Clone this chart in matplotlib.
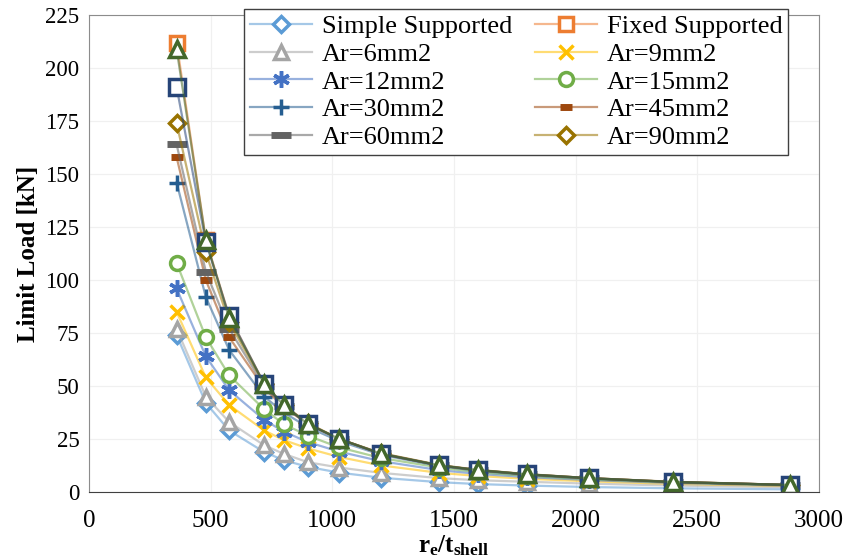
import numpy as np
import matplotlib.pyplot as plt
from matplotlib.colors import to_rgba

plt.rcParams['font.family'] = ['Liberation Serif', 'DejaVu Serif']
plt.rcParams['mathtext.fontset'] = 'custom'
plt.rcParams['mathtext.rm'] = 'Liberation Serif'
plt.rcParams['mathtext.bf'] = 'Liberation Serif:bold'

# r_e / t_shell
x = [360, 480, 576, 720, 800, 900, 1028.6, 1200, 1440, 1600, 1800, 2057, 2400, 2880]

# limit loads [kN]
simple = [74, 42, 29, 18.8, 15, 11.8, 9.1, 6.7, 4.6, 3.7, 3.0, 2.3, 1.7, 1.2]
fixed  = [212, 119, 83, 51, 41, 32, 25, 18, 12.5, 10.3, 8.3, 6.5, 4.7, 3.3]
ar6    = [77, 45, 33, 22, 18, 14, 11.5, 9, 6.5, 5.5, 4.8, 3.9, 3.0, 2.2]
ar9    = [85, 54, 41, 29, 24.5, 20.5, 16.5, 12.5, 9, 7.5, 6.2, 5.0, 3.8, 2.8]
ar12   = [96, 64, 48, 34, 28.5, 23.5, 19, 14.5, 10.3, 8.5, 7.0, 5.6, 4.2, 3.0]
ar15   = [108, 73, 55, 39, 32, 26.5, 21, 16, 11.5, 9.3, 7.6, 6.0, 4.5, 3.2]
ar30   = [146, 92, 67, 45, 37.5, 30.5, 24, 17.5, 12.2, 9.9, 8.0, 6.3, 4.6, 3.3]
ar45   = [158, 100, 73, 49, 40, 32, 25, 18, 12.5, 10.2, 8.2, 6.4, 4.7, 3.3]
ar60   = [164, 104, 77, 50, 40.5, 32, 25, 18.2, 12.6, 10.3, 8.3, 6.5, 4.7, 3.3]
ar90   = [174, 113, 80, 51, 41, 32.5, 25, 18.3, 12.7, 10.4, 8.4, 6.5, 4.8, 3.3]
ar120  = [191, 118, 83, 51, 41, 32, 25, 18, 12.5, 10.3, 8.3, 6.5, 4.7, 3.3]
ar150  = [209, 119, 82, 51, 41, 32, 25, 18, 12.5, 10.3, 8.3, 6.5, 4.7, 3.3]

fig = plt.figure(figsize=(8.52, 5.59), dpi=100)
ax = fig.add_axes([0.1045, 0.12, 0.8565, 0.853])

# (data, label, colour, marker, size, filled)
series = [
    (simple, 'Simple Supported', '#5B9BD5', 'D', 8, False),
    (fixed, 'Fixed Supported', '#ED7D31', 's', 10, False),
    (ar6, 'Ar=6mm2', '#A5A5A5', '^', 10, False),
    (ar9, 'Ar=9mm2', '#FFC000', 'x', 10, False),
    (ar12, 'Ar=12mm2', '#4472C4', (6, 2, 0), 12, False),
    (ar15, 'Ar=15mm2', '#70AD47', 'o', 10, False),
    (ar30, 'Ar=30mm2', '#255E91', '+', 11, False),
    (ar45, 'Ar=45mm2', '#9E480E', '_', 8, True),
    (ar60, 'Ar=60mm2', '#636363', '_', 14, True),
    (ar90, 'Ar=90mm2', '#997300', 'D', 8, False),
    (ar120, '_nolegend_', '#264478', 's', 12, False),
    (ar150, '_nolegend_', '#43682B', '^', 12, False),
]

for y, lab, c, m, ms, dash in series:
    lc = to_rgba(c, 0.55)
    kw = dict(color=lc, lw=1.6, marker=m, markersize=ms, markeredgecolor=c,
              label=lab)
    if m in ('x', '+') or isinstance(m, tuple):
        kw['markeredgewidth'] = 2.5
    elif dash:
        kw['markeredgewidth'] = 5
    else:
        kw['markerfacecolor'] = 'white'
        kw['markeredgewidth'] = 2.5
    ax.plot(x, y, **kw)

ax.set_xlim(0, 3000)
ax.set_ylim(0, 225)
ax.set_xticks(np.arange(0, 3001, 500))
ax.set_yticks(np.arange(0, 226, 25))
ax.grid(True, color='#F0F0F0', lw=0.9)
ax.set_axisbelow(True)
for s in ax.spines.values():
    s.set_color('#8C8C8C')
ax.spines['bottom'].set_color('#404040')
ax.tick_params(length=0)
ax.tick_params(axis='x', labelsize=18, pad=13)
ax.tick_params(axis='y', labelsize=16.5, pad=7)

ax.set_ylabel('Limit Load [kN]', fontsize=18, fontweight='bold', labelpad=4)
ax.set_xlabel(r'$\mathbf{r_e/t_{shell}}$', fontsize=18, labelpad=1)

# legend is filled row by row
h, l = ax.get_legend_handles_labels()
order = [0, 2, 4, 6, 8, 1, 3, 5, 7, 9]
leg = ax.legend([h[i] for i in order], [l[i] for i in order], ncol=2,
                loc='upper left', bbox_to_anchor=(244 / 852, 1 - 9 / 559),
                bbox_transform=fig.transFigure, fontsize=19, frameon=True,
                fancybox=False, edgecolor='#404040', framealpha=1,
                handlelength=2.35, handletextpad=0.38, columnspacing=0.85,
                labelspacing=0.16, borderpad=0.22, borderaxespad=0)
leg.get_frame().set_linewidth(1.0)

fig.savefig('out.png', dpi=100)
